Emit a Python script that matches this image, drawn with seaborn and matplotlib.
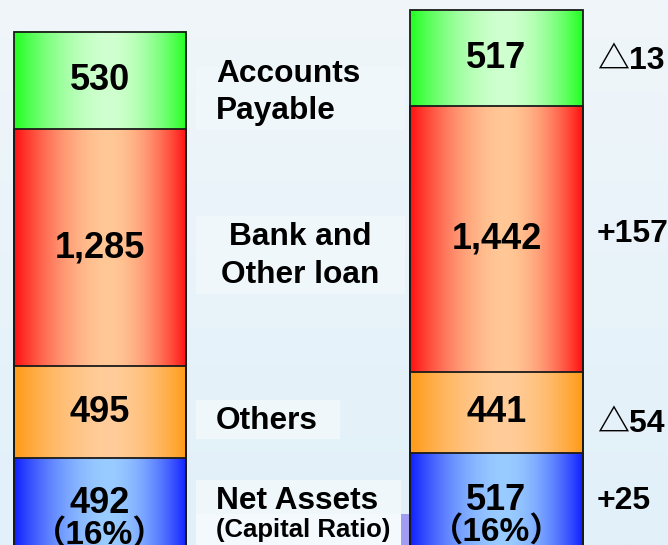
import numpy as np
import pandas as pd
import matplotlib
matplotlib.use("Agg")
import matplotlib.pyplot as plt
from matplotlib.colors import to_rgb
from matplotlib.patches import Rectangle
import seaborn as sns

# data (bottom segment first)
periods = ["Previous", "Current"]
categories = ["Net Assets", "Others", "Bank and Other loan", "Accounts Payable"]
before = [492, 495, 1285, 530]
after = [517, 441, 1442, 517]
ratio_labels = ["（16%）", "（16%）"]

edge_colors = ["#1020ff", "#ff9a14", "#ff1010", "#20ff20"]
center_colors = ["#99ccff", "#ffcc99", "#ffc896", "#d0ffd0"]
delta_nudge = [0, -60, 25, -15]  # small vertical nudges for the change labels

rows = []
for p, vals in zip(periods, [before, after]):
    cum = 0
    for c, v in zip(categories, vals):
        rows.append({"period": p, "category": c, "value": v, "bottom": cum, "top": cum + v})
        cum += v
df = pd.DataFrame(rows)

sns.set_theme(style="white")
plt.rcParams["font.family"] = ["Liberation Sans", "Noto Sans CJK JP", "DejaVu Sans"]

fig = plt.figure(figsize=(6.68, 5.45), dpi=100)
ax = fig.add_axes([0, 0, 1, 1])

# background
bg_top = np.array(to_rgb("#f0f6f9"))
bg_bot = np.array(to_rgb("#e1f0fa"))
t = np.linspace(0, 1, 200)[:, None]
bg = bg_top * (1 - t) + bg_bot * t
ax.imshow(bg[:, None, :].repeat(2, axis=1), extent=(0, 1, 0, 1), transform=ax.transAxes,
          aspect="auto", zorder=0)

# stacked bars as layered cumulative outlines
for c in reversed(categories):
    sub = df[df["category"] == c]
    sns.barplot(data=sub, x="period", y="top", order=periods, fill=False, color="#1a1a1a",
                linewidth=1.3, width=0.434, errorbar=None, ax=ax, zorder=3)

# gradient fills
bar_x = {p: (ax.patches[i].get_x(), ax.patches[i].get_width()) for i, p in enumerate(periods)}
tt = np.linspace(0, 1, 256)
d = np.where(tt < 0.55, (0.55 - tt) / 0.55, (tt - 0.55) / 0.45)
w = d ** 1.8
for _, r in df.iterrows():
    k = categories.index(r["category"])
    e = np.array(to_rgb(edge_colors[k]))
    m = np.array(to_rgb(center_colors[k]))
    grad = (e[None, :] * w[:, None] + m[None, :] * (1 - w[:, None]))[None, :, :]
    x0, bw = bar_x[r["period"]]
    ax.imshow(grad, extent=(x0, x0 + bw, r["bottom"], r["top"]), aspect="auto", zorder=2,
              interpolation="bilinear")

# value labels
for i, p in enumerate(periods):
    sub = df[df["period"] == p]
    for _, r in sub.iterrows():
        yc = (r["bottom"] + r["top"]) / 2
        ax.text(i, yc, f"{r['value']:,}", ha="center", va="center", fontsize=26,
                fontweight="bold", color="black", zorder=5)
        if r["category"] == "Net Assets":
            ax.text(i, yc - 170, ratio_labels[i], ha="center", va="center", fontsize=24,
                    fontweight="bold", color="black", zorder=5)

# changes
for c, b, a, nud in zip(categories, before, after, delta_nudge):
    diff = a - b
    lab = f"△{abs(diff)}" if diff < 0 else f"+{diff}"
    r = df[(df["period"] == periods[1]) & (df["category"] == c)].iloc[0]
    ax.text(1.2535, (r["bottom"] + r["top"]) / 2 + nud, lab, ha="left", va="center",
            fontsize=23, fontweight="bold", color="black", zorder=5)

# category labels with soft boxes (pixel layout)
W, H = 668, 545
def box(x0, y0, x1, y1, col="#f0f7fb"):
    ax.add_patch(Rectangle((x0 / W, 1 - y1 / H), (x1 - x0) / W, (y1 - y0) / H,
                           transform=ax.transAxes, facecolor=col, edgecolor="none", zorder=1))

def lab(px, py, s, size=22.8, ha="left"):
    ax.text(px / W, 1 - py / H, s, transform=ax.transAxes, ha=ha, va="center",
            fontsize=size, fontweight="bold", color="black", zorder=5)

box(196, 67, 405, 130)
box(196, 216, 405, 294)
box(196, 400, 340, 439)
box(196, 480, 401, 514)
box(196, 514, 401, 545, "#f3f9fd")
box(401, 514, 417, 545, "#a09cf4")

lab(216, 74, "Accounts")
lab(216, 111, "Payable")
lab(300, 237, "Bank and", ha="center")
lab(300, 275, "Other loan", ha="center")
lab(216, 421, "Others")
lab(216, 501, "Net Assets")
lab(216, 530, "(Capital Ratio)", size=18.5)

ax.set_xlim(-0.252, 1.4325)
ax.set_ylim(19, 2973)
ax.set_axis_off()

fig.savefig("out.png", dpi=100)
